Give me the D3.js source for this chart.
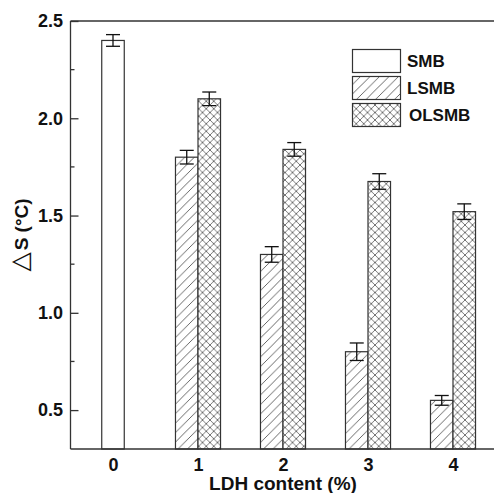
<!DOCTYPE html>
<html>
<head>
<meta charset="utf-8">
<script src="https://cdn.jsdelivr.net/npm/d3@7/dist/d3.min.js"></script>
<style>
  html, body { margin: 0; padding: 0; background: #fff; }
  svg { display: block; }
  text { font-family: Arial, "Liberation Sans", sans-serif; fill: #111; }
</style>
</head>
<body>
<svg id="chart" width="494" height="493"></svg>
<script>
// LDH content levels (%) and the bars at each level
const ldhLevels = [0, 1, 2, 3, 4];
const seriesNames = ["SMB", "LSMB", "OLSMB"];

// ΔS (°C) values, null where a series has no bar
const smbValues   = [2.40, null, null, null, null];
const lsmbValues  = [null, 1.80, 1.30, 0.80, 0.55];
const olsmbValues = [null, 2.10, 1.84, 1.675, 1.52];

// error half-widths
const smbErrors   = [0.03, null, null, null, null];
const lsmbErrors  = [null, 0.035, 0.04, 0.045, 0.025];
const olsmbErrors = [null, 0.035, 0.035, 0.04, 0.04];

const yTicks = [0.5, 1.0, 1.5, 2.0, 2.5];
const yMinorTicks = [0.75, 1.25, 1.75, 2.25];

const svg = d3.select("#chart");
const plotLeft = 70.5, plotRight = 495.5, plotTop = 21, plotBottom = 449;
const font = "Arial, 'Liberation Sans', sans-serif";

const x = d3.scaleLinear().domain([-0.5, 4.5]).range([plotLeft, plotRight]);
const y = d3.scaleLinear().domain([0.3, 2.5]).range([plotBottom, plotTop]);
const barW = x(0.265) - x(0);

// fill patterns
const defs = svg.append("defs");
const diag = defs.append("pattern")
  .attr("id", "diag").attr("patternUnits", "userSpaceOnUse")
  .attr("width", 9.5).attr("height", 9.5);
diag.append("rect").attr("width", 9.5).attr("height", 9.5).attr("fill", "#fff");
diag.append("path").attr("d", "M-1,10.5 L10.5,-1 M-2,2 L2,-2 M7.5,11.5 L11.5,7.5")
  .attr("stroke", "#555").attr("stroke-width", 0.9);

const cross = defs.append("pattern")
  .attr("id", "cross").attr("patternUnits", "userSpaceOnUse")
  .attr("width", 7.5).attr("height", 7.5);
cross.append("rect").attr("width", 7.5).attr("height", 7.5).attr("fill", "#fff");
cross.append("path").attr("d", "M0,0 L7.5,7.5 M0,7.5 L7.5,0")
  .attr("stroke", "#666").attr("stroke-width", 0.9);

const fills = { SMB: "#fff", LSMB: "url(#diag)", OLSMB: "url(#cross)" };

// assemble bar records: SMB centred on level 0, LSMB/OLSMB side by side
const bars = [];
ldhLevels.forEach((lv, i) => {
  if (smbValues[i] != null) bars.push({ s: "SMB", x0: x(lv) - barW / 2, v: smbValues[i], e: smbErrors[i] });
  if (lsmbValues[i] != null) bars.push({ s: "LSMB", x0: x(lv) - barW, v: lsmbValues[i], e: lsmbErrors[i] });
  if (olsmbValues[i] != null) bars.push({ s: "OLSMB", x0: x(lv), v: olsmbValues[i], e: olsmbErrors[i] });
});

svg.append("g").selectAll("rect").data(bars).join("rect")
  .attr("x", d => d.x0).attr("width", barW)
  .attr("y", d => y(d.v)).attr("height", d => plotBottom - y(d.v))
  .attr("fill", d => fills[d.s])
  .attr("stroke", "#333").attr("stroke-width", 1.2);

// error bars
const eb = svg.append("g").attr("stroke", "#111").attr("stroke-width", 1.3);
bars.forEach(d => {
  const cx = d.x0 + barW / 2, cap = 7;
  eb.append("line").attr("x1", cx).attr("x2", cx).attr("y1", y(d.v + d.e)).attr("y2", y(d.v - d.e));
  eb.append("line").attr("x1", cx - cap).attr("x2", cx + cap).attr("y1", y(d.v + d.e)).attr("y2", y(d.v + d.e));
  eb.append("line").attr("x1", cx - cap).attr("x2", cx + cap).attr("y1", y(d.v - d.e)).attr("y2", y(d.v - d.e));
});

// frame: left, bottom and top lines
const frame = svg.append("g").attr("stroke", "#333").attr("stroke-width", 1.3).attr("fill", "none");
frame.append("line").attr("x1", plotLeft).attr("x2", plotLeft).attr("y1", plotTop).attr("y2", plotBottom);
frame.append("line").attr("x1", plotLeft).attr("x2", 494).attr("y1", plotBottom).attr("y2", plotBottom);
frame.append("line").attr("x1", plotLeft).attr("x2", 494).attr("y1", plotTop).attr("y2", plotTop);

// y axis with inward ticks
const yAxis = d3.axisLeft(y).tickValues(yTicks).tickFormat(d3.format(".1f")).tickSizeInner(-8).tickSizeOuter(0).tickPadding(7.5);
const gy = svg.append("g").attr("transform", `translate(${plotLeft},0)`).call(yAxis);
gy.select(".domain").remove();
gy.selectAll(".tick line").attr("stroke", "#333").attr("stroke-width", 1.3);
gy.selectAll(".tick text").attr("font-size", 18).attr("font-weight", "bold")
  .attr("font-family", font).attr("fill", "#111");
svg.append("g").selectAll("line").data(yMinorTicks).join("line")
  .attr("x1", plotLeft).attr("x2", plotLeft + 4).attr("y1", d => y(d)).attr("y2", d => y(d))
  .attr("stroke", "#333").attr("stroke-width", 1.3);

// x axis labels
const xAxis = d3.axisBottom(x).tickValues(ldhLevels).tickFormat(d3.format("d")).tickSize(0).tickPadding(9);
const gx = svg.append("g").attr("transform", `translate(0,${plotBottom})`).call(xAxis);
gx.select(".domain").remove();
gx.selectAll(".tick text").attr("font-size", 18).attr("font-weight", "bold")
  .attr("font-family", font).attr("fill", "#111");

// axis titles
svg.append("text").attr("x", x(2)).attr("y", 490).attr("text-anchor", "middle")
  .attr("font-size", 19).attr("font-weight", "bold").text("LDH content (%)");
const yt = svg.append("text").attr("transform", `translate(28,${(plotTop + plotBottom) / 2}) rotate(-90)`)
  .attr("text-anchor", "middle").attr("font-size", 19);
yt.append("tspan").attr("font-weight", "normal").attr("font-size", 25).attr("font-family", "'DejaVu Sans', sans-serif").text("△");
yt.append("tspan").attr("font-weight", "bold").attr("dx", 2).text("S (°C)");

// legend
const lg = svg.append("g");
seriesNames.forEach((s, i) => {
  const ly = 49.5 + i * 27;
  lg.append("rect").attr("x", 352.5).attr("y", ly).attr("width", 48).attr("height", 23)
    .attr("fill", fills[s]).attr("stroke", "#333").attr("stroke-width", 1.2);
  lg.append("text").attr("x", s === "OLSMB" ? 409 : 407).attr("y", ly + 11.5).attr("dy", "0.36em")
    .attr("font-size", 17).attr("font-weight", "bold").text(s);
});
</script>
</body>
</html>
